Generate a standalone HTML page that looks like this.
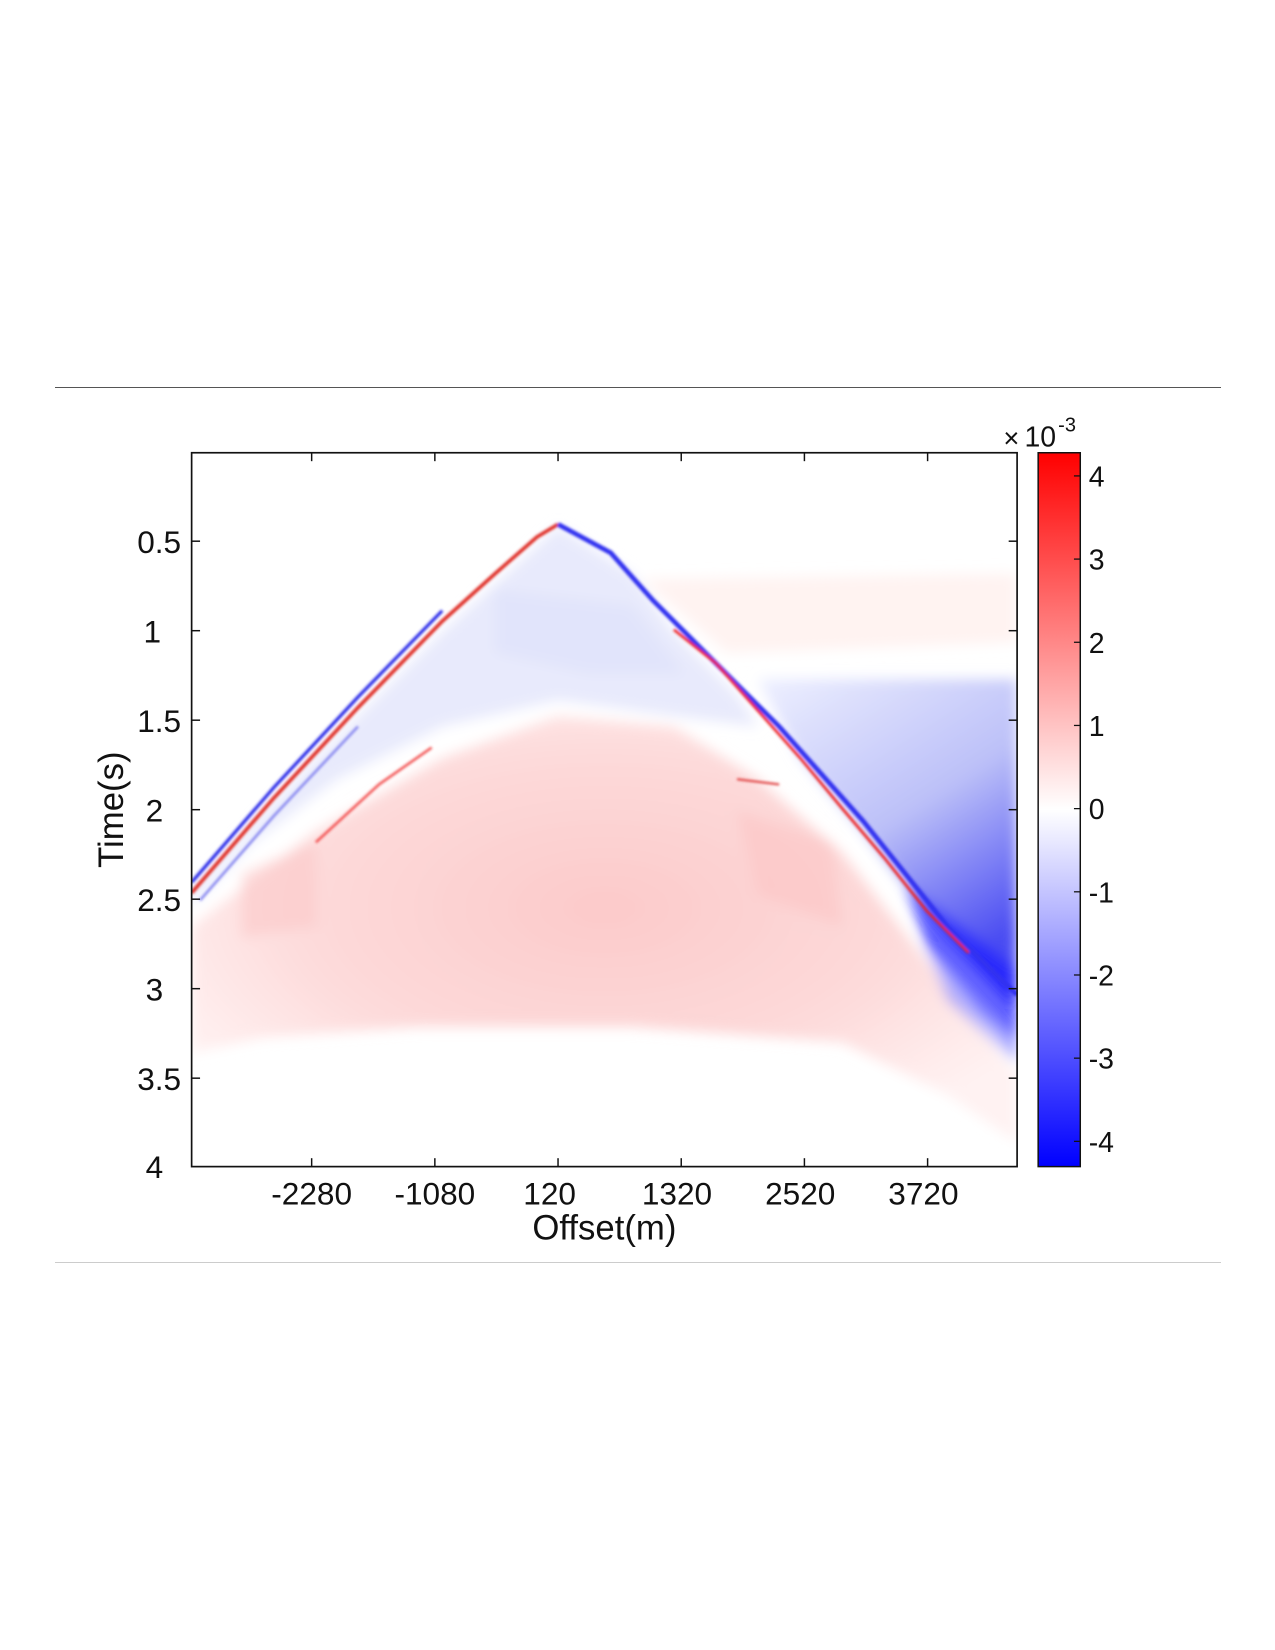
<!DOCTYPE html>
<html><head><meta charset="utf-8"><style>
html,body{margin:0;padding:0;background:#fff;}
svg{display:block;}
text{font-family:"Liberation Sans",sans-serif;fill:#111;}
</style></head><body>
<svg width="1275" height="1650" viewBox="0 0 1275 1650" xmlns="http://www.w3.org/2000/svg">
<defs>
<filter id="b6" x="-20%" y="-20%" width="140%" height="140%"><feGaussianBlur stdDeviation="6"/></filter>
<filter id="b2"><feGaussianBlur stdDeviation="1.2"/></filter>
<clipPath id="ax"><rect x="182" y="430" width="784" height="678"/></clipPath>
<linearGradient id="cb" x1="0" y1="0" x2="0" y2="1">
<stop offset="0" stop-color="#ff0000"/><stop offset="0.5" stop-color="#ffffff"/><stop offset="1" stop-color="#0000ff"/>
</linearGradient>
<linearGradient id="wedge" x1="0" y1="0" x2="0.5" y2="1">
<stop offset="0" stop-color="#eef0ff"/><stop offset="0.55" stop-color="#bcc0f8"/><stop offset="1" stop-color="#4a4cf2"/>
</linearGradient>
<radialGradient id="pinkg" cx="0.5" cy="0.45" r="0.6">
<stop offset="0" stop-color="#fccaca"/><stop offset="0.6" stop-color="#fddada"/><stop offset="1" stop-color="#fff2f2"/>
</radialGradient>
</defs>
<line x1="55" y1="387.5" x2="1221" y2="387.5" stroke="#555" stroke-width="1"/>
<line x1="55" y1="1262.5" x2="1221" y2="1262.5" stroke="#ccc" stroke-width="1"/>
<g transform="scale(1.0529)">
<g clip-path="url(#ax)">
<rect x="182" y="430" width="784" height="678" fill="#fff"/>
<g filter="url(#b6)">
<polygon points="610,550 966,545 966,610 690,620" fill="#fff3f1"/>
<polygon points="182,880 300,790 420,720 530,680 640,690 720,740 800,810 870,900 920,960 966,1020 966,1085 900,1040 800,990 600,975 400,975 250,985 182,1000" fill="url(#pinkg)"/>
<polygon points="230,830 300,800 300,880 230,890" fill="#fcc8c8" opacity="0.6"/>
<polygon points="700,770 790,800 800,880 720,850" fill="#fcc2c2" opacity="0.5"/>
<polygon points="530,500 600,545 640,600 700,660 720,690 640,680 530,665 420,690 320,740 240,800 182,860 182,845 300,720 420,600" fill="#e8eafc"/>
<polygon points="470,560 600,575 650,640 560,640 470,620" fill="#dcdffa" opacity="0.6"/>
<polygon points="720,645 966,645 966,960 900,890 820,790 760,720" fill="url(#wedge)"/>
<polygon points="860,840 966,920 966,990 930,960 880,900" fill="#2020ff" opacity="0.7"/>
<polygon points="880,900 966,990 966,1010 900,950" fill="#8080ff" opacity="0.6"/>
</g>
<g filter="url(#b2)">
<polyline points="182,848 260,758 340,672 420,590 470,545 510,510 530,498" fill="none" stroke="#e0302a" stroke-width="3.5"/>
<polyline points="182,838 260,748 340,662 420,580" fill="none" stroke="#2a2ae8" stroke-width="3"/>
<polyline points="190,855 260,775 340,690" fill="none" stroke="#8a8af0" stroke-width="2.5"/>
<polyline points="300,800 360,745 410,710" fill="none" stroke="#f03030" stroke-width="2.5" opacity="0.8"/>
<polyline points="530,498 580,525 620,570 660,610 700,650 740,690 780,735 820,780 860,830 900,880 940,920 966,945" fill="none" stroke="#3030f0" stroke-width="4.5"/>
<polyline points="640,598 680,630 720,675 760,720 800,768 840,815 880,865 920,905" fill="none" stroke="#ee2020" stroke-width="2.5"/>
<polyline points="700,740 740,745" fill="none" stroke="#e04040" stroke-width="2"/>
</g>
</g>
<rect x="182" y="430" width="784" height="678" fill="none" stroke="#111" stroke-width="1.6"/>
<g stroke="#111" stroke-width="1.4">
<line x1="296" y1="430" x2="296" y2="438"/><line x1="296" y1="1108" x2="296" y2="1100"/>
<line x1="413" y1="430" x2="413" y2="438"/><line x1="413" y1="1108" x2="413" y2="1100"/>
<line x1="530" y1="430" x2="530" y2="438"/><line x1="530" y1="1108" x2="530" y2="1100"/>
<line x1="647" y1="430" x2="647" y2="438"/><line x1="647" y1="1108" x2="647" y2="1100"/>
<line x1="764" y1="430" x2="764" y2="438"/><line x1="764" y1="1108" x2="764" y2="1100"/>
<line x1="881" y1="430" x2="881" y2="438"/><line x1="881" y1="1108" x2="881" y2="1100"/>
<line x1="182" y1="514" x2="190" y2="514"/><line x1="966" y1="514" x2="958" y2="514"/>
<line x1="182" y1="599" x2="190" y2="599"/><line x1="966" y1="599" x2="958" y2="599"/>
<line x1="182" y1="684" x2="190" y2="684"/><line x1="966" y1="684" x2="958" y2="684"/>
<line x1="182" y1="769" x2="190" y2="769"/><line x1="966" y1="769" x2="958" y2="769"/>
<line x1="182" y1="854" x2="190" y2="854"/><line x1="966" y1="854" x2="958" y2="854"/>
<line x1="182" y1="939" x2="190" y2="939"/><line x1="966" y1="939" x2="958" y2="939"/>
<line x1="182" y1="1024" x2="190" y2="1024"/><line x1="966" y1="1024" x2="958" y2="1024"/>
</g>
<g font-size="30" text-anchor="end">
<text x="172" y="525">0.5</text><text x="153" y="610">1</text><text x="172" y="695">1.5</text>
<text x="155" y="780">2</text><text x="172" y="865">2.5</text><text x="155" y="950">3</text>
<text x="172" y="1035">3.5</text><text x="155" y="1119">4</text>
</g>
<g font-size="30" text-anchor="middle">
<text x="296" y="1144">-2280</text><text x="413" y="1144">-1080</text><text x="522" y="1144">120</text>
<text x="643" y="1144">1320</text><text x="760" y="1144">2520</text><text x="877" y="1144">3720</text>
<text x="574" y="1177" font-size="33">Offset(m)</text>
<text transform="translate(117,769) rotate(-90)" font-size="33">Time(s)</text>
</g>
<rect x="986" y="430" width="40" height="678" fill="url(#cb)" stroke="#111" stroke-width="1.4"/>
<g stroke="#111" stroke-width="1.2">
<line x1="1020" y1="452" x2="1026" y2="452"/><line x1="1020" y1="531" x2="1026" y2="531"/>
<line x1="1020" y1="610" x2="1026" y2="610"/><line x1="1020" y1="689" x2="1026" y2="689"/>
<line x1="1020" y1="768" x2="1026" y2="768"/><line x1="1020" y1="847" x2="1026" y2="847"/>
<line x1="1020" y1="926" x2="1026" y2="926"/><line x1="1020" y1="1005" x2="1026" y2="1005"/>
<line x1="1020" y1="1084" x2="1026" y2="1084"/>
</g>
<g font-size="27">
<text x="1034" y="462">4</text><text x="1034" y="541">3</text><text x="1034" y="620">2</text>
<text x="1034" y="699">1</text><text x="1034" y="778">0</text><text x="1034" y="857">-1</text>
<text x="1034" y="936">-2</text><text x="1034" y="1015">-3</text><text x="1034" y="1094">-4</text>
<text x="953" y="425" font-size="26">×</text><text x="973" y="424" font-size="27">10</text>
<text x="1005" y="410" font-size="19">-3</text>
</g>
</g>
</svg>
</body></html>
